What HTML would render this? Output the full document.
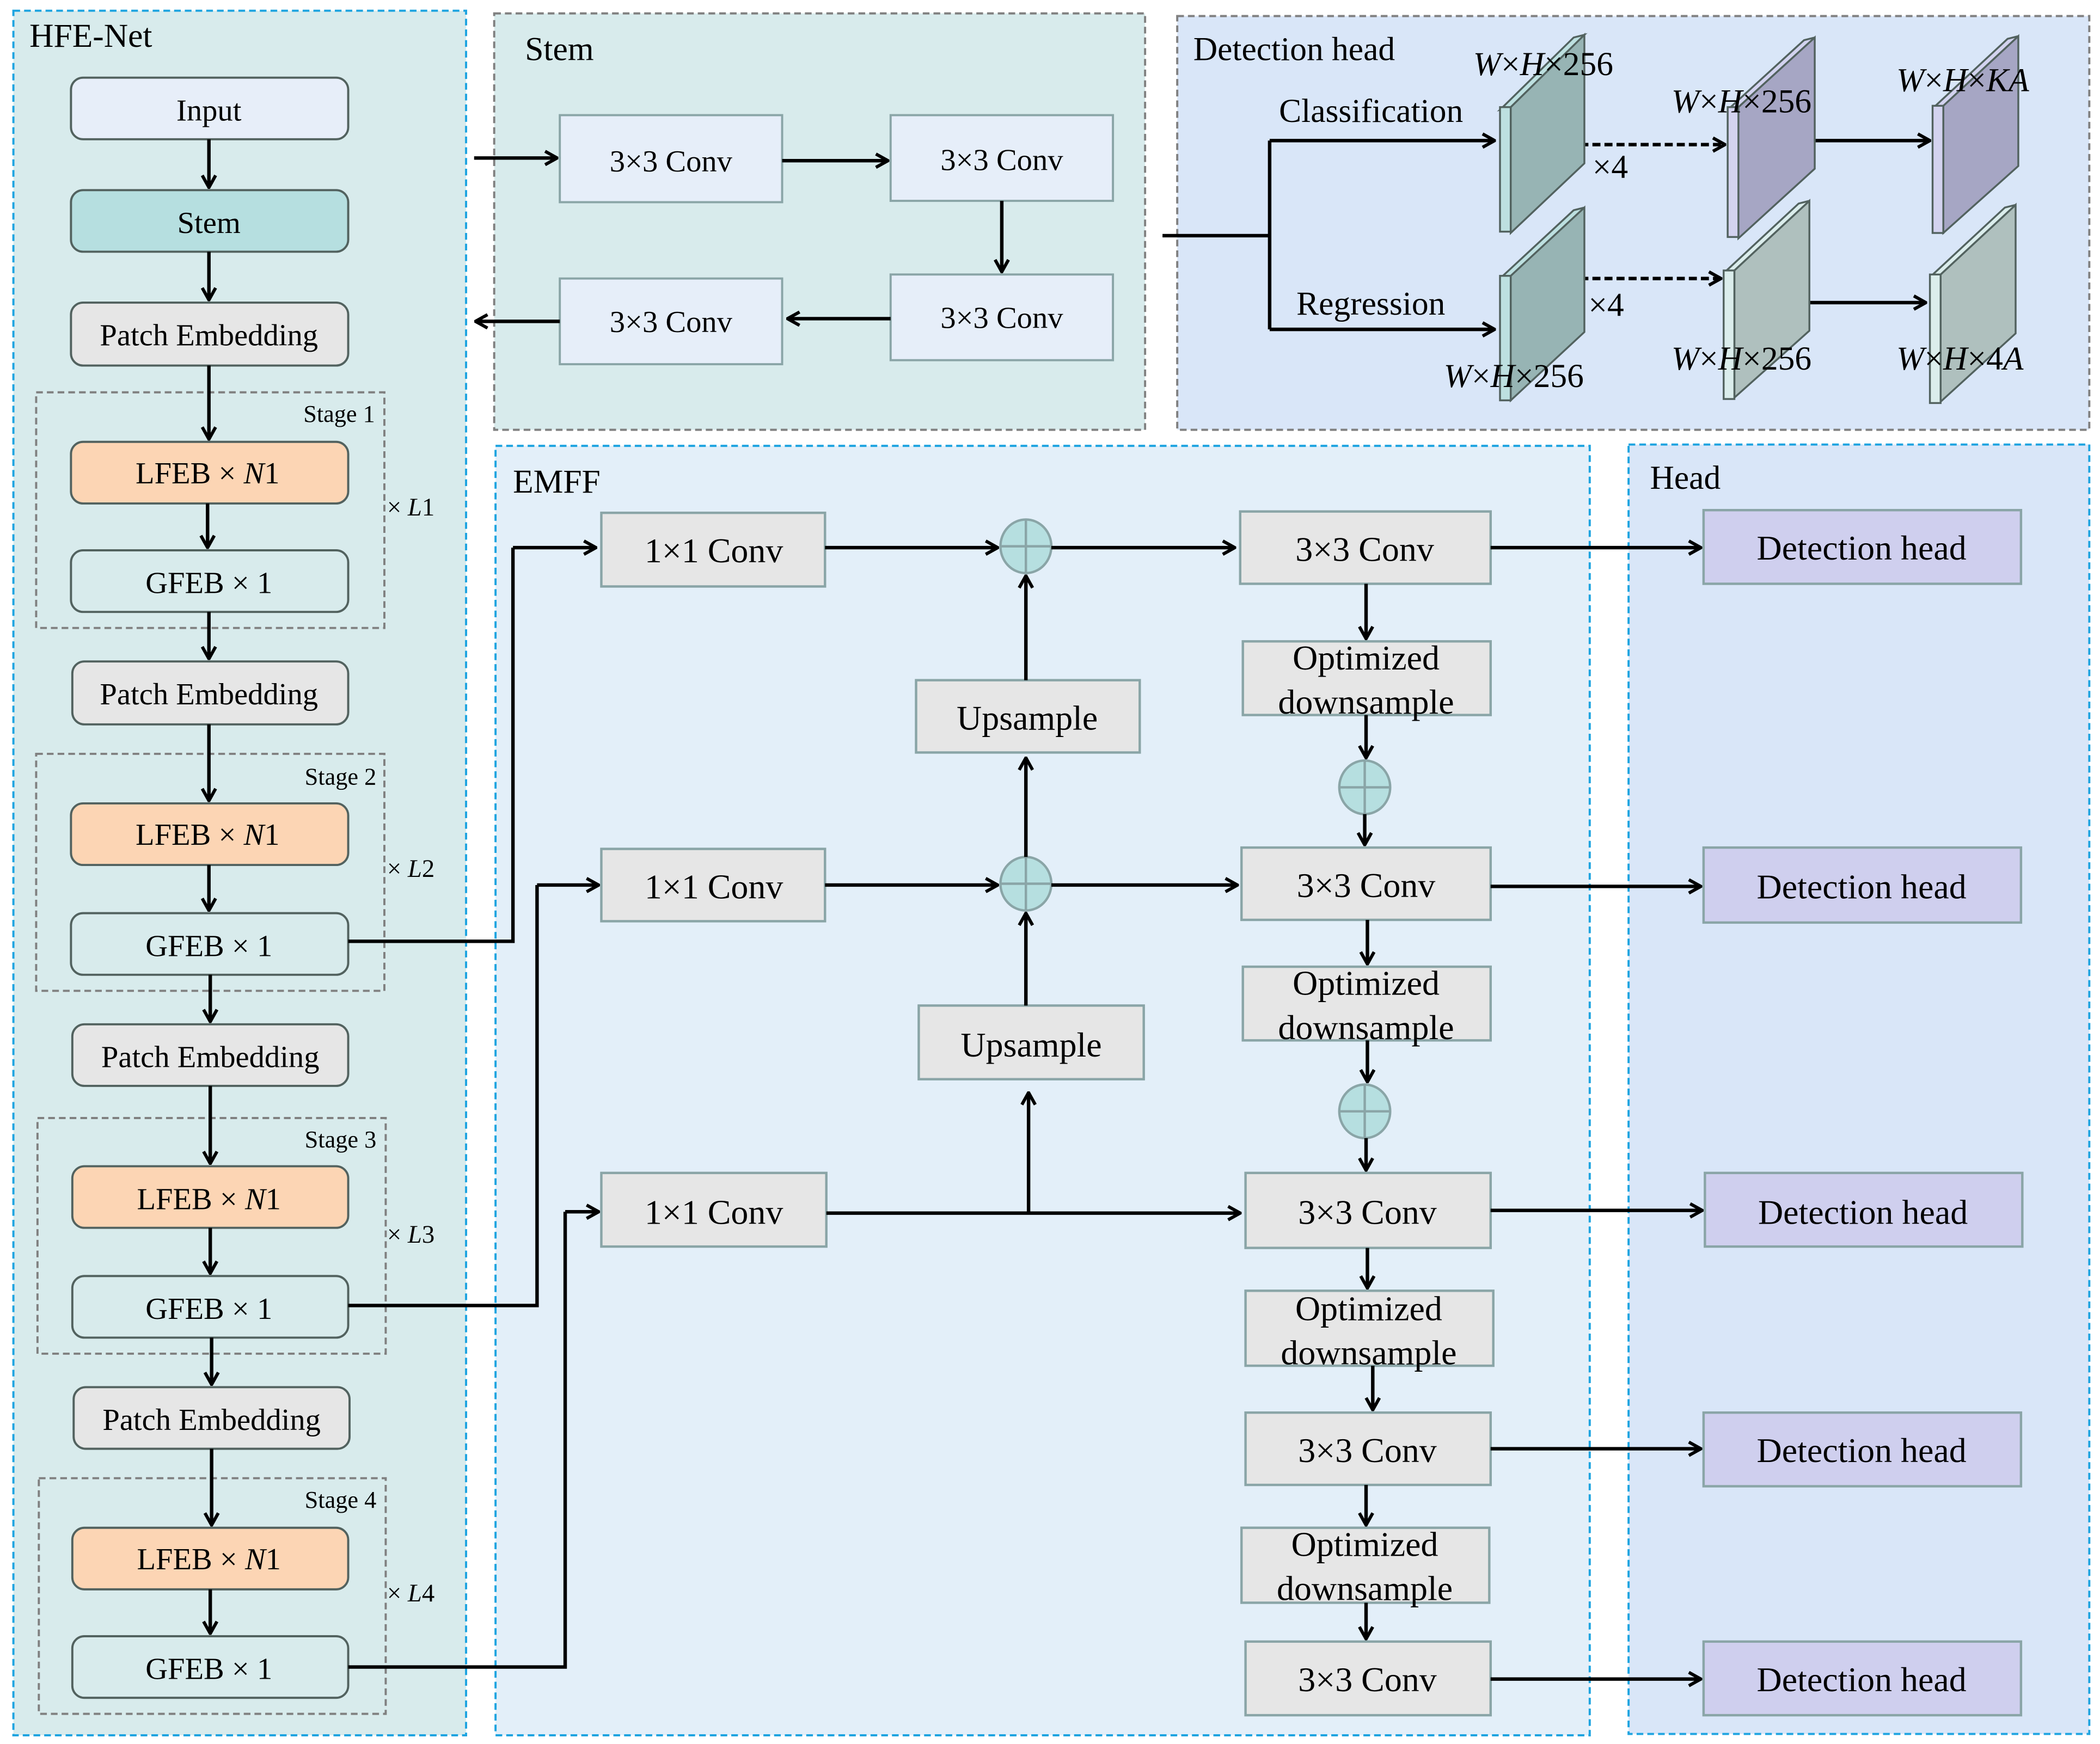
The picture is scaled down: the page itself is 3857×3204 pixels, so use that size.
<!DOCTYPE html>
<html><head><meta charset="utf-8"><style>html,body{margin:0;padding:0;background:#fff}svg{display:block}text{font-family:"Liberation Serif",serif;fill:#000}</style></head><body>
<svg width="3857" height="3204" viewBox="0 0 1568 1302.5" preserveAspectRatio="none" xmlns="http://www.w3.org/2000/svg">
<defs>
<marker id="a" viewBox="0 0 12 12" refX="11" refY="6" markerWidth="12" markerHeight="12" markerUnits="userSpaceOnUse" orient="auto"><path d="M2,1 L11,6 L2,11" fill="none" stroke="#000" stroke-width="2.4"/></marker>
</defs>
<rect width="1568" height="1302.5" fill="#fff"/>
<!-- panels -->
<rect x="10" y="8" width="338" height="1288" fill="#d8ebec" stroke="#1ea4e0" stroke-width="1.6" stroke-dasharray="5,3"/>
<rect x="369" y="10" width="486" height="311" fill="#d8ebec" stroke="#808080" stroke-width="1.6" stroke-dasharray="5,3"/>
<rect x="879" y="12" width="681" height="309" fill="#d9e6f8" stroke="#808080" stroke-width="1.6" stroke-dasharray="5,3"/>
<rect x="370" y="333" width="817" height="963" fill="#e3eff9" stroke="#1ea4e0" stroke-width="1.6" stroke-dasharray="5,3"/>
<rect x="1216" y="332" width="344" height="963" fill="#d9e6f8" stroke="#1ea4e0" stroke-width="1.6" stroke-dasharray="5,3"/>
<text x="22" y="35" font-size="25">HFE-Net</text>
<text x="392" y="45" font-size="25">Stem</text>
<text x="891" y="45" font-size="25">Detection head</text>
<text x="383" y="368" font-size="25">EMFF</text>
<text x="1232" y="365" font-size="25">Head</text>

<!-- left column -->
<g stroke="#52625f" stroke-width="1.6">
<rect x="53" y="58" width="207" height="46" rx="9" fill="#e7eef9"/>
<rect x="53" y="142" width="207" height="46" rx="9" fill="#b6dfe0"/>
<rect x="53" y="226" width="207" height="47" rx="9" fill="#e6e6e6"/>
<rect x="53" y="330" width="207" height="46" rx="9" fill="#fcd5b4"/>
<rect x="53" y="411" width="207" height="46" rx="9" fill="#d8ebec"/>
<rect x="54" y="494" width="206" height="47" rx="9" fill="#e6e6e6"/>
<rect x="53" y="600" width="207" height="46" rx="9" fill="#fcd5b4"/>
<rect x="53" y="682" width="207" height="46" rx="9" fill="#d8ebec"/>
<rect x="54" y="765" width="206" height="46" rx="9" fill="#e6e6e6"/>
<rect x="54" y="871" width="206" height="46" rx="9" fill="#fcd5b4"/>
<rect x="54" y="953" width="206" height="46" rx="9" fill="#d8ebec"/>
<rect x="55" y="1036" width="206" height="46" rx="9" fill="#e6e6e6"/>
<rect x="54" y="1141" width="206" height="46" rx="9" fill="#fcd5b4"/>
<rect x="54" y="1222" width="206" height="46" rx="9" fill="#d8ebec"/>
</g>
<g fill="none" stroke="#808080" stroke-width="1.6" stroke-dasharray="5,3">
<rect x="27" y="293" width="260" height="176"/>
<rect x="27" y="563" width="260" height="177"/>
<rect x="28" y="835" width="260" height="176"/>
<rect x="29" y="1104" width="259" height="176"/>
</g>
<g font-size="23" text-anchor="middle">
<text x="156" y="90">Input</text>
<text x="156" y="174">Stem</text>
<text x="156" y="258">Patch Embedding</text>
<text x="156" y="526">Patch Embedding</text>
<text x="157" y="797">Patch Embedding</text>
<text x="158" y="1068">Patch Embedding</text>
<text x="155" y="361">LFEB  × <tspan font-style="italic">N</tspan>1</text>
<text x="155" y="631">LFEB  × <tspan font-style="italic">N</tspan>1</text>
<text x="156" y="903">LFEB  × <tspan font-style="italic">N</tspan>1</text>
<text x="156" y="1172">LFEB  × <tspan font-style="italic">N</tspan>1</text>
<text x="156" y="443">GFEB  × 1</text>
<text x="156" y="714">GFEB  × 1</text>
<text x="156" y="985">GFEB  × 1</text>
<text x="156" y="1254">GFEB  × 1</text>
</g>
<g font-size="18" text-anchor="end">
<text x="280" y="315">Stage 1</text><text x="281" y="586">Stage 2</text><text x="281" y="857">Stage 3</text><text x="281" y="1126">Stage 4</text>
</g>
<g font-size="19">
<text x="289" y="385">× <tspan font-style="italic">L</tspan>1</text>
<text x="289" y="655">× <tspan font-style="italic">L</tspan>2</text>
<text x="289" y="928">× <tspan font-style="italic">L</tspan>3</text>
<text x="289" y="1196">× <tspan font-style="italic">L</tspan>4</text>
</g>
<g stroke="#000" stroke-width="2.6" fill="none" marker-end="url(#a)">
<line x1="156" y1="104" x2="156" y2="140"/>
<line x1="156" y1="188" x2="156" y2="224"/>
<line x1="156" y1="273" x2="156" y2="328"/>
<line x1="155" y1="376" x2="155" y2="409"/>
<line x1="156" y1="457" x2="156" y2="492"/>
<line x1="156" y1="541" x2="156" y2="598"/>
<line x1="156" y1="646" x2="156" y2="680"/>
<line x1="157" y1="728" x2="157" y2="763"/>
<line x1="157" y1="811" x2="157" y2="869"/>
<line x1="157" y1="917" x2="157" y2="951"/>
<line x1="158" y1="999" x2="158" y2="1034"/>
<line x1="158" y1="1082" x2="158" y2="1139"/>
<line x1="157" y1="1187" x2="157" y2="1220"/>
</g>

<!-- stem panel -->
<g stroke="#8aa5a7" stroke-width="1.6" fill="#e6eef9">
<rect x="418" y="86" width="166" height="65"/>
<rect x="665" y="86" width="166" height="64"/>
<rect x="665" y="205" width="166" height="64"/>
<rect x="418" y="208" width="166" height="64"/>
</g>
<g font-size="23" text-anchor="middle">
<text x="501" y="128">3×3 Conv</text><text x="748" y="127">3×3 Conv</text>
<text x="748" y="245">3×3 Conv</text><text x="501" y="248">3×3 Conv</text>
</g>
<g stroke="#000" stroke-width="2.6" fill="none" marker-end="url(#a)">
<line x1="354" y1="118" x2="416" y2="118"/>
<line x1="584" y1="120" x2="663" y2="120"/>
<line x1="748" y1="150" x2="748" y2="203"/>
<line x1="665" y1="238" x2="588" y2="238"/>
<line x1="418" y1="240" x2="355" y2="240"/>
</g>

<!-- detection head detail -->
<g stroke="#000" stroke-width="2.6" fill="none">
<polyline points="868,176 948,176"/>
<polyline points="948,105 948,246"/>
<line x1="948" y1="105" x2="1116" y2="105" marker-end="url(#a)"/>
<line x1="948" y1="246" x2="1116" y2="246" marker-end="url(#a)"/>
<line x1="1180" y1="108" x2="1288" y2="108" stroke-dasharray="6,3" marker-end="url(#a)"/>
<line x1="1180" y1="208" x2="1285" y2="208" stroke-dasharray="6,3" marker-end="url(#a)"/>
<line x1="1337" y1="105" x2="1441" y2="105" marker-end="url(#a)"/>
<line x1="1342" y1="226" x2="1438" y2="226" marker-end="url(#a)"/>
</g>
<g stroke="#52625f" stroke-width="1.4">
<!-- slab helper: strip x..x+8, face -->
<polygon points="1128,80 1183,26 1183,122 1128,174" fill="#97b4b4"/>
<polygon points="1120,82 1175,28 1183,26 1128,80" fill="#bde0e0"/>
<rect x="1120" y="80" width="8" height="93" fill="#bde0e0"/>

<polygon points="1298,80 1355,28 1355,126 1298,178" fill="#a6a6c4"/>
<polygon points="1290,82 1347,30 1355,28 1298,80" fill="#d3d3ef"/>
<rect x="1290" y="80" width="8" height="97" fill="#d3d3ef"/>

<polygon points="1451,79 1507,27 1507,124 1451,174" fill="#a6a6c4"/>
<polygon points="1443,81 1499,29 1507,27 1451,79" fill="#d3d3ef"/>
<rect x="1443" y="79" width="8" height="95" fill="#d3d3ef"/>

<polygon points="1128,206 1183,155 1183,248 1128,299" fill="#97b4b4"/>
<polygon points="1120,208 1175,157 1183,155 1128,206" fill="#bde0e0"/>
<rect x="1120" y="206" width="8" height="93" fill="#bde0e0"/>

<polygon points="1295,202 1351,150 1351,247 1295,297" fill="#afc0be"/>
<polygon points="1287,204 1343,152 1351,150 1295,202" fill="#dbedec"/>
<rect x="1287" y="202" width="8" height="96" fill="#dbedec"/>

<polygon points="1449,205 1505,153 1505,249 1449,300" fill="#afc0be"/>
<polygon points="1441,207 1497,155 1505,153 1449,205" fill="#dbedec"/>
<rect x="1441" y="205" width="8" height="96" fill="#dbedec"/>
</g>
<g font-size="25">
<text x="955" y="91">Classification</text>
<text x="968" y="235">Regression</text>
<text x="1189" y="133">×4</text>
<text x="1186" y="236">×4</text>
<text x="1100" y="56"><tspan font-style="italic">W</tspan>×<tspan font-style="italic">H</tspan>×256</text>
<text x="1248" y="84"><tspan font-style="italic">W</tspan>×<tspan font-style="italic">H</tspan>×256</text>
<text x="1416" y="68"><tspan font-style="italic">W</tspan>×<tspan font-style="italic">H</tspan>×<tspan font-style="italic">KA</tspan></text>
<text x="1078" y="289"><tspan font-style="italic">W</tspan>×<tspan font-style="italic">H</tspan>×256</text>
<text x="1248" y="276"><tspan font-style="italic">W</tspan>×<tspan font-style="italic">H</tspan>×256</text>
<text x="1416" y="276"><tspan font-style="italic">W</tspan>×<tspan font-style="italic">H</tspan>×4<tspan font-style="italic">A</tspan></text>
</g>

<!-- EMFF boxes -->
<g stroke="#8aa5a7" stroke-width="1.8" fill="#e6e6e6">
<rect x="449" y="383" width="167" height="55"/>
<rect x="449" y="634" width="167" height="54"/>
<rect x="449" y="876" width="168" height="55"/>
<rect x="684" y="508" width="167" height="54"/>
<rect x="686" y="751" width="168" height="55"/>
<rect x="926" y="382" width="187" height="54"/>
<rect x="927" y="633" width="186" height="54"/>
<rect x="930" y="876" width="183" height="56"/>
<rect x="930" y="1055" width="183" height="54"/>
<rect x="930" y="1226" width="183" height="55"/>
<rect x="928" y="479" width="185" height="55"/>
<rect x="928" y="722" width="185" height="55"/>
<rect x="930" y="964" width="185" height="56"/>
<rect x="927" y="1141" width="185" height="56"/>
</g>
<g stroke="#8aa5a7" stroke-width="1.8" fill="#cfcfee">
<rect x="1272" y="381" width="237" height="55"/>
<rect x="1272" y="633" width="237" height="56"/>
<rect x="1273" y="876" width="237" height="55"/>
<rect x="1272" y="1055" width="237" height="55"/>
<rect x="1272" y="1226" width="237" height="55"/>
</g>
<g font-size="26" text-anchor="middle">
<text x="533" y="420">1×1 Conv</text>
<text x="533" y="671">1×1 Conv</text>
<text x="533" y="914">1×1 Conv</text>
<text x="767" y="545">Upsample</text>
<text x="770" y="789">Upsample</text>
<text x="1019" y="419">3×3 Conv</text>
<text x="1020" y="670">3×3 Conv</text>
<text x="1021" y="914">3×3 Conv</text>
<text x="1021" y="1092">3×3 Conv</text>
<text x="1021" y="1263">3×3 Conv</text>
<text x="1020" y="500">Optimized</text><text x="1020" y="533">downsample</text>
<text x="1020" y="743">Optimized</text><text x="1020" y="776">downsample</text>
<text x="1022" y="986">Optimized</text><text x="1022" y="1019">downsample</text>
<text x="1019" y="1162">Optimized</text><text x="1019" y="1195">downsample</text>
<text x="1390" y="418">Detection head</text>
<text x="1390" y="671">Detection head</text>
<text x="1391" y="914">Detection head</text>
<text x="1390" y="1092">Detection head</text>
<text x="1390" y="1263">Detection head</text>
</g>
<!-- plus circles -->
<g stroke="#8aa5a7" stroke-width="1.8" fill="#b6dfe0">
<ellipse cx="766" cy="408" rx="19" ry="20"/><path d="M747,408 H785 M766,388 V428"/>
<ellipse cx="766" cy="660" rx="19" ry="20"/><path d="M747,660 H785 M766,640 V680"/>
<ellipse cx="1019" cy="588" rx="19" ry="20"/><path d="M1000,588 H1038 M1019,568 V608"/>
<ellipse cx="1019" cy="830" rx="19" ry="20"/><path d="M1000,830 H1038 M1019,810 V850"/>
</g>
<!-- EMFF connectors -->
<g stroke="#000" stroke-width="2.6" fill="none">
<polyline points="260,703 383,703 383,409"/>
<polyline points="260,975 401,975 401,661"/>
<polyline points="260,1245 422,1245 422,905"/>
<line x1="768" y1="906" x2="768" y2="816" marker-end="url(#a)"/>
</g>
<g stroke="#000" stroke-width="2.6" fill="none" marker-end="url(#a)">
<line x1="383" y1="409" x2="445" y2="409"/>
<line x1="401" y1="661" x2="447" y2="661"/>
<line x1="422" y1="905" x2="447" y2="905"/>
<line x1="616" y1="409" x2="745" y2="409"/>
<line x1="785" y1="409" x2="922" y2="409"/>
<line x1="616" y1="661" x2="745" y2="661"/>
<line x1="785" y1="661" x2="924" y2="661"/>
<line x1="617" y1="906" x2="926" y2="906"/>
<line x1="766" y1="751" x2="766" y2="682"/>
<line x1="766" y1="640" x2="766" y2="566"/>
<line x1="766" y1="508" x2="766" y2="430"/>
<line x1="1020" y1="436" x2="1020" y2="477"/>
<line x1="1020" y1="534" x2="1020" y2="566"/>
<line x1="1019" y1="608" x2="1019" y2="631"/>
<line x1="1021" y1="687" x2="1021" y2="720"/>
<line x1="1021" y1="777" x2="1021" y2="808"/>
<line x1="1020" y1="850" x2="1020" y2="874"/>
<line x1="1021" y1="932" x2="1021" y2="962"/>
<line x1="1025" y1="1020" x2="1025" y2="1053"/>
<line x1="1020" y1="1109" x2="1020" y2="1139"/>
<line x1="1020" y1="1197" x2="1020" y2="1224"/>
<line x1="1113" y1="409" x2="1270" y2="409"/>
<line x1="1113" y1="662" x2="1270" y2="662"/>
<line x1="1113" y1="904" x2="1271" y2="904"/>
<line x1="1113" y1="1082" x2="1270" y2="1082"/>
<line x1="1113" y1="1254" x2="1270" y2="1254"/>
</g>
</svg>
</body></html>
